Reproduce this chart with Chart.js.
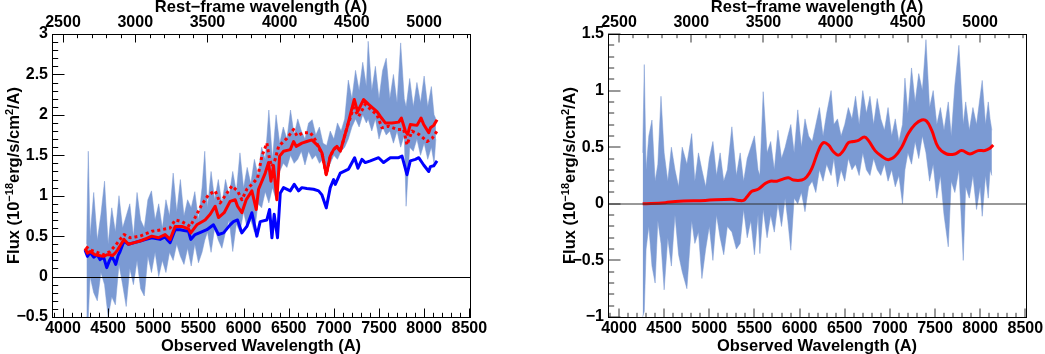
<!DOCTYPE html>
<html>
<head>
<meta charset="utf-8">
<script src="https://cdn.jsdelivr.net/npm/chart.js@4.4.0/dist/chart.umd.min.js"></script>
<style>
  html, body { margin: 0; padding: 0; background: #fff; }
  #wrap { position: relative; width: 1045px; height: 354px; overflow: hidden; }
  canvas { position: absolute; top: 0; }
</style>
</head>
<body>
<div id="wrap">
  <canvas id="left" width="522" height="354" style="left:0"></canvas>
  <canvas id="right" width="523" height="354" style="left:522px"></canvas>
</div>
<script>
// ---- axis ticks ----
const obsTicks = [4000, 4500, 5000, 5500, 6000, 6500, 7000, 7500, 8000, 8500];
const restTicks = [2500, 3000, 3500, 4000, 4500, 5000];
const leftYTicks = [-0.5, 0, 0.5, 1, 1.5, 2, 2.5, 3];
const rightYTicks = [-1, -0.5, 0, 0.5, 1, 1.5];

// ---- left panel: observed spectrum band (low / high edge) ----
const leftBandWave = [4260,4280,4300,4340,4380,4420,4460,4500,4540,4580,4620,4660,4700,4740,4780,4820,4860,4900,4940,4980,
  5020,5060,5100,5140,5180,5220,5260,5300,5340,5380,5420,5460,5500,5540,5570,5600,5640,5680,5720,5760,
  5800,5840,5880,5920,5960,6000,6040,6080,6120,6160,6200,6240,6280,6320,6360,6400,6440,6480,6520,6560,
  6600,6640,6680,6720,6760,6800,6840,6880,6920,6960,7000,7040,7080,7120,7160,7200,7240,7280,7320,7360,
  7380,7420,7460,7500,7540,7580,7620,7660,7700,7740,7780,7800,7840,7880,7920,7960,8000,8040,8080,8110,8130];
const leftBandLow = [-0.50,-0.50,0.00,-0.20,-0.30,0.05,-0.10,-0.50,-0.25,-0.35,0.15,-0.10,-0.37,0.10,-0.10,0.20,-0.15,-0.24,0.25,0.05,
  0.30,0.00,0.20,0.05,0.30,0.20,0.40,0.25,0.15,0.35,0.13,0.40,0.17,0.30,0.45,0.55,0.30,0.60,0.45,0.35,
  0.55,0.70,0.31,0.65,0.55,0.80,0.60,0.70,0.55,0.90,0.85,1.05,0.91,1.10,0.95,1.30,1.40,1.35,1.50,1.40,
  1.45,1.55,1.38,1.55,1.45,1.50,1.40,1.45,1.30,1.40,1.50,1.45,1.55,1.60,1.70,1.85,1.95,1.85,2.00,1.90,
  1.95,1.80,1.95,1.70,1.85,1.75,1.80,1.65,1.80,1.60,1.75,0.87,1.60,1.55,1.70,1.50,1.65,1.45,1.60,1.40,1.70];
const leftBandHigh = [0.40,1.55,0.50,1.04,0.45,0.77,1.18,0.40,0.85,0.55,1.00,0.60,0.75,0.90,0.50,1.04,0.70,0.60,0.95,1.06,
  0.70,0.90,0.60,0.95,0.75,1.28,0.80,1.20,0.75,0.95,0.85,1.05,0.70,1.10,1.55,0.85,1.30,0.95,1.20,0.90,
  1.20,1.00,1.30,1.05,1.53,1.10,1.35,1.15,1.45,1.25,1.60,1.45,2.06,1.45,2.00,1.65,1.85,1.70,2.06,1.75,
  1.95,1.80,1.70,1.90,1.94,1.75,1.85,1.65,1.62,1.80,1.70,1.90,1.80,1.95,2.43,2.20,2.55,2.30,2.65,2.35,
  2.91,2.30,2.60,2.20,2.55,2.70,2.20,2.50,2.15,2.89,2.20,2.10,2.45,2.10,2.40,2.15,2.48,2.10,2.35,2.00,1.95];

// ---- left panel: model lines ----
const blueWave = [4244,4270,4300,4340,4380,4410,4450,4484,4515,4540,4565,4584,4610,4632,4676,4724,4790,4854,4920,4983,
  5030,5075,5131,5160,5186,5242,5297,5340,5390,5415,5463,5530,5593,5667,5722,5778,5851,5888,5933,5981,
  6036,6092,6147,6184,6258,6288,6314,6339,6376,6406,6443,6517,6561,6609,6646,6700,6775,6831,6868,6916,
  6960,6997,7016,7071,7163,7230,7267,7311,7348,7404,7496,7551,7625,7718,7755,7810,7847,7903,7940,7995,
  8051,8070,8106,8143];
const blueFlux = [0.33,0.25,0.30,0.24,0.27,0.21,0.24,0.11,0.20,0.25,0.20,0.15,0.26,0.31,0.44,0.40,0.42,0.44,0.46,0.48,
  0.47,0.46,0.49,0.45,0.42,0.58,0.58,0.57,0.56,0.46,0.52,0.55,0.58,0.64,0.52,0.54,0.64,0.68,0.70,0.54,
  0.62,0.79,0.50,0.68,0.70,0.83,0.48,0.77,0.48,1.03,1.10,1.06,1.14,1.06,1.10,1.09,1.08,1.06,1.01,0.85,
  1.10,1.20,1.14,1.28,1.33,1.47,1.34,1.45,1.41,1.43,1.47,1.41,1.47,1.47,1.49,1.26,1.43,1.45,1.47,1.38,
  1.30,1.36,1.37,1.43];

const redWave = [4244,4270,4300,4355,4400,4447,4490,4521,4550,4577,4605,4632,4676,4724,4790,4854,4920,4983,5057,5131,
  5186,5242,5316,5390,5415,5482,5574,5630,5685,5722,5785,5851,5907,5933,5981,6029,6092,6140,6166,6240,
  6277,6303,6332,6369,6399,6443,6517,6554,6583,6646,6700,6757,6831,6868,6916,6960,6997,7034,7071,7145,
  7226,7263,7330,7385,7478,7515,7570,7644,7718,7748,7792,7818,7847,7921,7966,7995,8051,8070,8106,8143];
const redFlux = [0.35,0.29,0.31,0.27,0.26,0.25,0.27,0.27,0.26,0.29,0.33,0.38,0.46,0.40,0.42,0.44,0.47,0.50,0.48,0.52,
  0.46,0.62,0.62,0.59,0.54,0.64,0.70,0.77,0.87,0.73,0.79,0.93,0.95,0.87,0.79,0.95,1.06,0.83,1.08,1.28,
  1.41,1.18,1.37,0.95,1.49,1.55,1.57,1.67,1.61,1.65,1.67,1.69,1.61,1.53,1.26,1.49,1.57,1.61,1.55,1.84,
  2.19,2.04,2.19,2.13,2.04,1.98,1.90,1.90,1.91,1.96,1.80,1.76,1.88,1.87,1.96,1.88,1.78,1.84,1.87,1.94];

const dotWave = [4255,4300,4355,4400,4447,4490,4521,4577,4632,4676,4743,4800,4854,4920,4983,5040,5094,5186,5242,5316,
  5408,5463,5537,5611,5685,5741,5814,5870,5933,5981,6036,6110,6155,6203,6258,6288,6314,6350,6388,6425,
  6480,6554,6591,6665,6739,6794,6842,6868,6916,6960,6997,7034,7071,7145,7219,7274,7348,7404,7478,7533,
  7607,7700,7774,7810,7866,7940,7995,8033,8088,8143];
const dotFlux = [0.37,0.33,0.31,0.29,0.27,0.29,0.31,0.38,0.46,0.52,0.48,0.49,0.50,0.53,0.56,0.57,0.58,0.60,0.70,0.68,
  0.62,0.73,0.89,1.01,1.06,0.91,1.03,1.12,1.06,0.95,1.08,1.16,1.22,1.49,1.65,1.45,1.36,1.45,1.61,1.65,
  1.71,1.82,1.74,1.78,1.78,1.69,1.57,1.53,1.26,1.49,1.57,1.61,1.55,1.84,2.09,1.98,2.13,2.07,2.00,1.84,
  1.86,1.82,1.82,1.63,1.80,1.76,1.71,1.67,1.71,1.80];

// ---- right panel: residual band and smooth fit ----
const rightBandWave = [4262,4280,4300,4330,4365,4400,4430,4465,4500,4540,4580,4620,4660,4700,4752,4805,4840,4880,4918,4960,
  5000,5040,5080,5120,5160,5200,5250,5300,5342,5380,5420,5460,5500,5540,5560,5597,5640,5680,5720,5760,
  5800,5840,5870,5903,5940,5980,6020,6060,6100,6140,6180,6220,6260,6300,6349,6380,6420,6460,6500,6540,
  6580,6620,6660,6700,6740,6780,6820,6860,6900,6940,6980,7020,7060,7100,7140,7167,7200,7240,7280,7320,
  7360,7400,7440,7480,7520,7560,7600,7647,7680,7720,7765,7813,7840,7880,7920,7960,8000,8023,8060,8090,8110,8130];
const rightBandLow = [-1.00,-0.95,-0.40,-0.20,-0.55,-0.70,-0.15,-0.35,-0.76,-0.30,-0.55,-0.10,-0.45,-0.60,-0.75,-0.15,-0.35,-0.25,-0.66,-0.40,
  -0.20,-0.50,-0.10,-0.30,-0.45,-0.20,-0.25,-0.40,-0.35,-0.05,-0.30,-0.15,-0.45,-0.10,-0.44,-0.05,-0.30,-0.10,-0.25,0.00,
  -0.20,0.05,-0.15,-0.41,0.05,0.00,0.10,-0.07,0.15,0.20,0.10,0.30,0.20,0.35,0.25,0.40,0.15,0.30,0.20,0.40,
  0.30,0.35,0.25,0.45,0.30,0.25,0.40,0.30,0.25,0.35,0.20,0.30,0.15,0.25,0.00,0.30,0.45,0.35,0.55,0.40,
  0.60,0.45,0.20,0.35,0.05,0.25,-0.10,-0.38,0.20,0.10,0.30,-0.50,0.15,0.05,0.25,-0.05,0.15,-0.11,0.25,0.05,0.30,0.25];
const rightBandHigh = [0.45,1.23,0.30,0.60,0.74,0.20,0.35,0.95,0.45,0.20,0.50,0.30,0.15,0.50,0.35,0.62,0.20,0.45,0.30,0.15,
  0.40,0.55,0.25,0.45,0.20,0.30,0.68,0.25,0.45,0.20,0.40,0.50,0.60,0.30,0.25,0.99,0.45,0.55,0.30,0.65,
  0.40,0.50,0.60,0.70,0.45,0.83,0.50,0.75,0.60,0.55,0.70,0.85,0.60,0.80,1.00,0.70,0.75,0.60,0.70,0.85,
  0.75,0.95,0.70,1.00,0.80,0.95,0.70,0.93,0.75,0.65,0.85,0.60,0.75,0.55,0.70,1.11,0.80,1.20,0.90,1.15,
  1.00,1.45,0.85,1.00,0.70,0.85,0.65,0.90,0.60,1.05,1.40,0.70,0.90,0.65,0.85,0.70,0.95,1.09,0.70,0.90,0.75,0.65];

const fitWave = [4262,4513,4623,4955,5250,5324,5379,5416,5471,5545,5619,5674,5748,5822,5877,5932,6024,6080,6135,6209,
  6264,6319,6375,6430,6485,6541,6596,6651,6718,6762,6836,6909,6983,7057,7131,7204,7278,7352,7407,7463,
  7536,7629,7721,7795,7887,7979,8053,8108,8145];
const fitFlux = [0.00,0.01,0.02,0.03,0.04,0.03,0.03,0.06,0.11,0.13,0.18,0.20,0.20,0.22,0.23,0.21,0.21,0.24,0.31,0.47,
  0.54,0.52,0.46,0.43,0.47,0.54,0.55,0.56,0.59,0.56,0.47,0.42,0.39,0.42,0.50,0.62,0.70,0.74,0.73,0.65,
  0.50,0.44,0.44,0.47,0.44,0.47,0.47,0.49,0.52];

// observed / rest wavelength ratio (z = 0.6)
const ZFAC = 1.6;
const X_MIN = 3878, X_MAX = 8508;

const FONT = '"Liberation Sans", Arial, Helvetica, sans-serif';
Chart.defaults.font.family = FONT;
Chart.defaults.font.weight = 'bold';
Chart.defaults.color = '#000';

const BAND = '#7b9ad3';
const pts = (xs, ys) => xs.map((x, i) => ({ x, y: ys[i] }));
const fmt = v => (v < 0 ? '\u2212' : '') + Math.abs(v);

function tickList(from, to, step) {
  const out = [];
  for (let k = Math.ceil(from / step - 1e-9); k * step <= to + 1e-9; k++) out.push(Math.round(k * step * 10) / 10);
  return out;
}

// frame, zero line, inward tick marks and the y title with superscripts
const rootStyle = {
  id: 'rootStyle',
  afterDraw(chart, args, o) {
    const { ctx, chartArea: a, scales } = chart;
    ctx.save();
    ctx.strokeStyle = o.tickColor;
    ctx.lineWidth = 1;
    const off = o.off;

    const y0 = Math.round(scales.y.getPixelForValue(0)) + off;
    ctx.beginPath(); ctx.moveTo(a.left, y0); ctx.lineTo(a.right, y0); ctx.stroke();

    const marks = (scale, majors, side, big, small) => {
      scale.ticks.forEach(t => {
        const p = Math.round(scale.getPixelForValue(t.value)) + off;
        const len = majors.includes(t.value) ? big : small;
        ctx.beginPath();
        if (side === 'bottom') { ctx.moveTo(p, a.bottom); ctx.lineTo(p, a.bottom - len); }
        if (side === 'top') { ctx.moveTo(p, a.top); ctx.lineTo(p, a.top + len); }
        if (side === 'left') { ctx.moveTo(a.left, p); ctx.lineTo(a.left + len, p); }
        ctx.stroke();
      });
    };
    marks(scales.x, obsTicks, 'bottom', 8.5, 4.2);
    marks(scales.x2, restTicks, 'top', 8.5, 4.2);
    marks(scales.y, o.yMajors, 'left', 12.5, 6.2);

    ctx.strokeStyle = '#000';
    ctx.strokeRect(Math.round(a.left) + 0.5, Math.round(a.top) + 0.5,
      Math.round(a.right - a.left), Math.round(a.bottom - a.top));

    // y title: Flux (10^-18 erg/s/cm^2/A)
    const parts = [['Flux (10', false], ['\u221218', true], ['erg/s/cm', false], ['2', true], ['/A)', false]];
    const big = 'bold 16.5px ' + FONT, sup = 'bold 11px ' + FONT;
    let total = 0;
    parts.forEach(p => { ctx.font = p[1] ? sup : big; total += ctx.measureText(p[0]).width; });
    ctx.translate(o.titleX, (a.top + a.bottom) / 2);
    ctx.rotate(-Math.PI / 2);
    ctx.fillStyle = '#000';
    ctx.textBaseline = 'alphabetic';
    let x = -total / 2;
    parts.forEach(p => {
      ctx.font = p[1] ? sup : big;
      ctx.fillText(p[0], x, p[1] ? -6.5 : 0);
      x += ctx.measureText(p[0]).width;
    });
    ctx.restore();
  }
};

function makePanel(id, datasets, yMin, yMax, yMajors, yWidth, padRight, titleX, off) {
  const yAll = tickList(yMin, yMax, 0.1);
  new Chart(document.getElementById(id), {
    type: 'line',
    data: { datasets },
    plugins: [rootStyle],
    options: {
      responsive: false,
      animation: false,
      devicePixelRatio: 1,
      layout: { padding: { left: 0, right: padRight, top: 0, bottom: 0 } },
      plugins: {
        legend: { display: false },
        tooltip: { enabled: false },
        rootStyle: { yMajors, titleX, off, tickColor: off ? '#000' : '#333' }
      },
      elements: { point: { radius: 0 }, line: { borderJoinStyle: 'round' } },
      scales: {
        x: {
          type: 'linear', position: 'bottom', min: X_MIN, max: X_MAX,
          grid: { display: false, drawTicks: false }, border: { display: false },
          afterBuildTicks: s => { s.ticks = tickList(3900, 8500, 100).map(v => ({ value: v })); },
          afterFit: s => { s.height = 37; },
          ticks: {
            autoSkip: false, maxRotation: 0, padding: 1.5, font: { size: 16, weight: 'bold' },
            callback: v => obsTicks.includes(v) ? String(v) : ''
          },
          title: { display: true, text: 'Observed Wavelength (A)', font: { size: 16.5, weight: 'bold', lineHeight: 1 }, padding: { top: 0, bottom: -0.5 } }
        },
        x2: {
          type: 'linear', position: 'top', min: X_MIN / ZFAC, max: X_MAX / ZFAC,
          grid: { display: false, drawTicks: false }, border: { display: false },
          afterBuildTicks: s => { s.ticks = tickList(2500, 5300, 100).map(v => ({ value: v })); },
          afterFit: s => { s.height = 34; },
          ticks: {
            autoSkip: false, maxRotation: 0, padding: 1.5, font: { size: 16, weight: 'bold' },
            callback: v => restTicks.includes(v) ? String(v) : ''
          },
          title: { display: true, text: 'Rest\u2212frame wavelength (A)', font: { size: 16.5, weight: 'bold', lineHeight: 1 }, padding: { top: -0.5, bottom: 0 } }
        },
        y: {
          type: 'linear', position: 'left', min: yMin, max: yMax,
          grid: { display: false, drawTicks: false }, border: { display: false },
          afterBuildTicks: s => { s.ticks = yAll.map(v => ({ value: v })); },
          afterFit: s => { s.width = yWidth; },
          ticks: {
            autoSkip: false, padding: 4, font: { size: 16, weight: 'bold' },
            callback: v => yMajors.includes(v) ? fmt(v) : ''
          }
        }
      }
    }
  });
}

makePanel('left', [
  { data: pts(redWave, redFlux), borderColor: '#ff0000', borderWidth: 3, fill: false, tension: 0 },
  { data: pts(dotWave, dotFlux), borderColor: '#ff0000', borderWidth: 3, borderDash: [3, 3], fill: false, tension: 0 },
  { data: pts(blueWave, blueFlux), borderColor: '#0000ff', borderWidth: 3, fill: false, tension: 0 },
  { data: pts(leftBandWave, leftBandHigh), borderColor: 'rgba(123,154,211,0.5)', borderWidth: 1, backgroundColor: BAND, fill: '+1', tension: 0 },
  { data: pts(leftBandWave, leftBandLow), borderColor: 'rgba(123,154,211,0.5)', borderWidth: 1, fill: false, tension: 0 }
], -0.5, 3, leftYTicks, 52, 52, 19, 0.5);

makePanel('right', [
  { data: pts(fitWave, fitFlux), borderColor: '#ff0000', borderWidth: 3, fill: false, tension: 0.4 },
  { data: pts(rightBandWave, rightBandHigh), borderColor: 'rgba(123,154,211,0.5)', borderWidth: 1, backgroundColor: BAND, fill: '+1', tension: 0 },
  { data: pts(rightBandWave, rightBandLow), borderColor: 'rgba(123,154,211,0.5)', borderWidth: 1, fill: false, tension: 0 }
], -1, 1.5, rightYTicks, 86, 19, 53, 0);
</script>
</body>
</html>
